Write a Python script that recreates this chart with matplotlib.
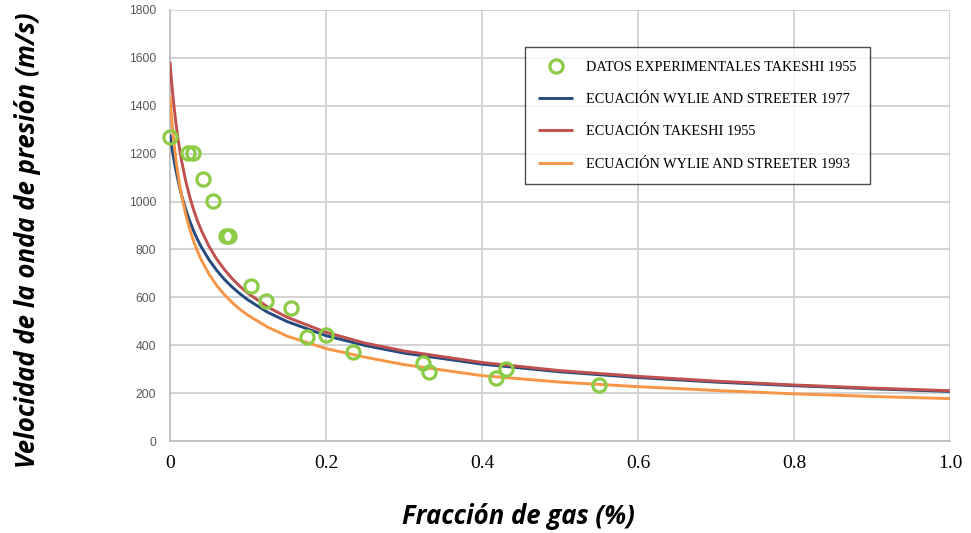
import matplotlib
matplotlib.use("Agg")
import matplotlib.pyplot as plt
from matplotlib import font_manager as fm

# ---- data ----
exp_x = [0.0, 0.023, 0.029, 0.042, 0.055, 0.072, 0.076, 0.104, 0.123, 0.155,
         0.176, 0.200, 0.235, 0.324, 0.332, 0.4175, 0.431, 0.550]
exp_y = [1270, 1203, 1203, 1094, 1002, 856, 856, 648, 586, 557,
         436, 441, 373, 325, 290, 264, 299, 234]

curve_x = [0.0, 0.001, 0.002, 0.003, 0.005, 0.0075, 0.01, 0.0125, 0.015, 0.02,
           0.025, 0.03, 0.035, 0.04, 0.05, 0.06, 0.07, 0.08, 0.09, 0.1, 0.125,
           0.15, 0.2, 0.25, 0.3, 0.4, 0.5, 0.6, 0.7, 0.8, 0.9, 1.0]
wylie_1977 = [1280, 1257, 1235, 1214, 1175, 1132, 1093, 1057, 1025, 969,
              921, 880, 843, 811, 757, 712, 674, 642, 614, 589, 538,
              499, 440, 399, 367, 321, 289, 265, 246, 231, 218, 207]
takeshi_1955 = [1584, 1542, 1502, 1466, 1400, 1330, 1269, 1215, 1168, 1088,
                1023, 968, 921, 881, 813, 759, 715, 677, 645, 617, 560,
                517, 454, 409, 376, 328, 294, 270, 250, 234, 221, 210]
wylie_1993 = [1438, 1393, 1353, 1315, 1249, 1179, 1119, 1068, 1023, 948,
              887, 837, 794, 757, 697, 649, 610, 577, 549, 525, 476,
              438, 386, 350, 319, 273, 246, 227, 211, 197, 186, 177]

labels = ["DATOS EXPERIMENTALES TAKESHI 1955",
          "ECUACIÓN WYLIE AND STREETER 1977",
          "ECUACIÓN TAKESHI 1955",
          "ECUACIÓN WYLIE AND STREETER 1993"]
x_ticks = [0, 0.2, 0.4, 0.6, 0.8, 1.0]
x_tick_labels = ["0", "0.2", "0.4", "0.6", "0.8", "1.0"]
y_ticks = [0, 200, 400, 600, 800, 1000, 1200, 1400, 1600, 1800]

names = {f.name for f in fm.fontManager.ttflist}
label_font = "Open Sans" if "Open Sans" in names else "DejaVu Sans"

fig = plt.figure(figsize=(9.71, 5.33), dpi=100)
ax = fig.add_axes([170/971, 92/533, 780/971, 431/533])

c_green = "#8CCB46"
c_blue = "#244A7E"
c_red = "#C0504D"
c_orange = "#F79646"

line_kw = dict(lw=2.1, zorder=3, solid_joinstyle="round", solid_capstyle="butt")
ax.plot(curve_x, wylie_1977, color=c_blue, label=labels[1], **line_kw)
ax.plot(curve_x, takeshi_1955, color=c_red, label=labels[2], **line_kw)
ax.plot(curve_x, wylie_1993, color=c_orange, label=labels[3], **line_kw)
ax.plot(exp_x, exp_y, ls="none", marker="o", ms=9.5, mfc="none", mec=c_green,
        mew=2.3, zorder=4, clip_on=False, label=labels[0])

ax.set_xlim(0, 1.0)
ax.set_ylim(0, 1800)
ax.set_xticks(x_ticks)
ax.set_xticklabels(x_tick_labels)
ax.set_yticks(y_ticks)
ax.grid(True, color="#d0d0d0", lw=1.3, zorder=0)
ax.set_axisbelow(True)
for s in ["top", "right"]:
    ax.spines[s].set_visible(False)
for s in ["left", "bottom"]:
    ax.spines[s].set_color("#bfbfbf")
    ax.spines[s].set_linewidth(1.3)
ax.tick_params(axis="both", length=0)
ax.tick_params(axis="y", pad=10, labelcolor="#595959", labelsize=8.8)
ax.tick_params(axis="x", pad=10, labelsize=14)
for t in ax.get_xticklabels():
    t.set_fontfamily("Liberation Serif")
for t in ax.get_yticklabels():
    t.set_fontfamily("Liberation Sans")

fig.text(28/971, 1 - 240/533, "Velocidad de la onda de presión (m/s)", rotation=90,
         ha="center", va="center", fontsize=18.5, fontweight="bold", fontstyle="italic",
         family=label_font)
fig.text(518/971, 1 - 517/533, "Fracción de gas (%)", ha="center", va="center",
         fontsize=18.5, fontweight="bold", fontstyle="italic", family=label_font)

h, l = ax.get_legend_handles_labels()
order = [3, 0, 1, 2]
leg = ax.legend([h[i] for i in order], [l[i] for i in order],
                loc="upper left", bbox_to_anchor=(0.455, 0.914), borderaxespad=0,
                prop={"family": "Liberation Serif", "size": 10.3},
                frameon=True, fancybox=False, edgecolor="#202020",
                handlelength=2.4, labelspacing=1.35, borderpad=0.95, handletextpad=0.9)
leg.get_frame().set_linewidth(1.0)
leg.set_zorder(5)

fig.savefig("out.png", dpi=100)
